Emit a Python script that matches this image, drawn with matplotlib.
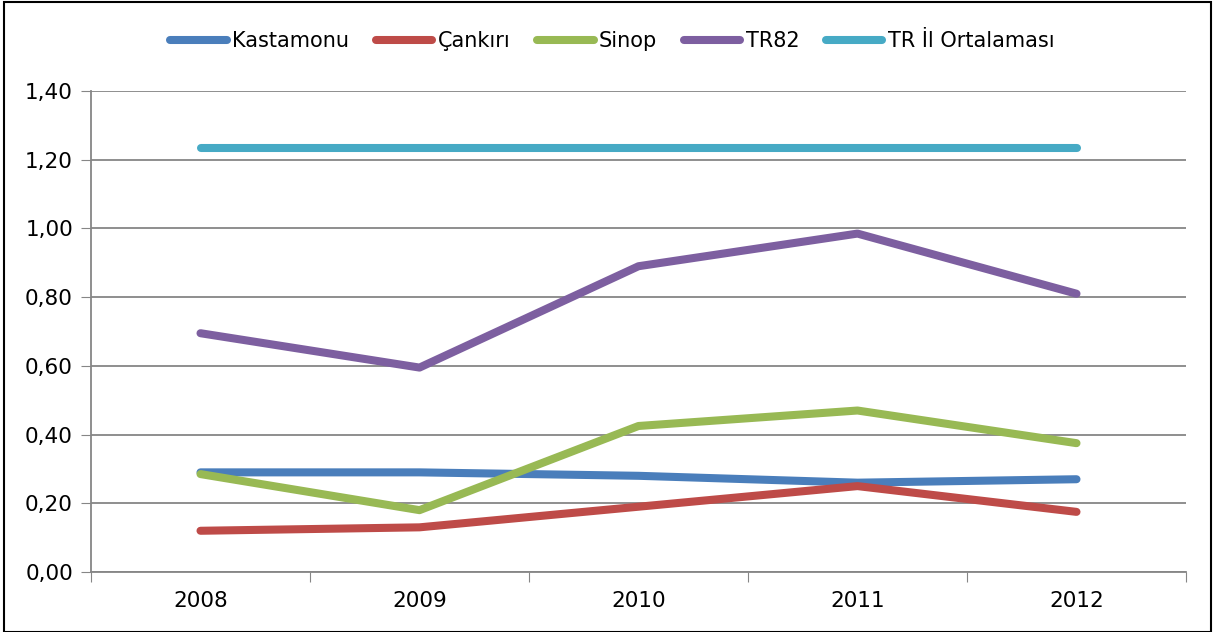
import numpy as np
import matplotlib
matplotlib.use("Agg")
import matplotlib.pyplot as plt
from matplotlib.patches import Rectangle

# values
years = ["2008", "2009", "2010", "2011", "2012"]
kastamonu = [0.29, 0.29, 0.28, 0.26, 0.27]
cankiri = [0.12, 0.13, 0.19, 0.25, 0.175]
sinop = [0.285, 0.18, 0.425, 0.47, 0.375]
tr82 = [0.695, 0.595, 0.89, 0.985, 0.81]
tr_il = [1.235, 1.235, 1.235, 1.235, 1.235]

series_names = ["Kastamonu", "Çankırı", "Sinop", "TR82", "TR İl Ortalaması"]
series_values = [kastamonu, cankiri, sinop, tr82, tr_il]
colors = ["#4A7EBB", "#BE4B48", "#98B954", "#7D5FA0", "#46AAC5"]

plt.rcParams['font.family'] = ['DejaVu Sans']

fig = plt.figure(figsize=(12.15, 6.32), dpi=100)
ax = fig.add_axes([91 / 1215, 60 / 632, (1186 - 91) / 1215, (572 - 91) / 632])

x = np.arange(len(years))
for name, vals, c in zip(series_names, series_values, colors):
    ax.plot(x, vals, color=c, lw=5.8, solid_capstyle="round",
            solid_joinstyle="round", label=name)

ax.set_xlim(-0.5, len(years) - 0.5)
ax.set_ylim(0, 1.4)
ax.set_yticks(np.arange(0, 1.41, 0.2))
ax.set_yticklabels([f"{v:.2f}".replace(".", ",") for v in np.arange(0, 1.41, 0.2)])
ax.set_xticks(np.arange(-0.5, len(years), 1.0))
ax.set_xticklabels([])
ax.set_xticks(x, minor=True)
ax.set_xticklabels(years, minor=True)
ax.tick_params(axis="x", which="minor", length=0, pad=14, labelsize=15.5)
ax.tick_params(axis="x", which="major", direction="out", length=7, color="#868686")
ax.tick_params(axis="y", direction="out", length=7, color="#868686", labelsize=15.5, pad=6)

ax.grid(axis="y", color="#868686", lw=1.3)
ax.set_axisbelow(True)
for s in ["top", "right"]:
    ax.spines[s].set_visible(False)
for s in ["left", "bottom"]:
    ax.spines[s].set_color("#868686")
    ax.spines[s].set_linewidth(1.3)

fig.legend(loc="center", bbox_to_anchor=(0.504, 0.935), ncol=5, frameon=False,
           fontsize=15, handlelength=2.7, handletextpad=0.25, columnspacing=1.3)

fig.patches.append(Rectangle((0.003, 0.0), 0.994, 0.997, transform=fig.transFigure,
                             fill=False, edgecolor="black", lw=1.5))

fig.savefig("out.png", dpi=100)
